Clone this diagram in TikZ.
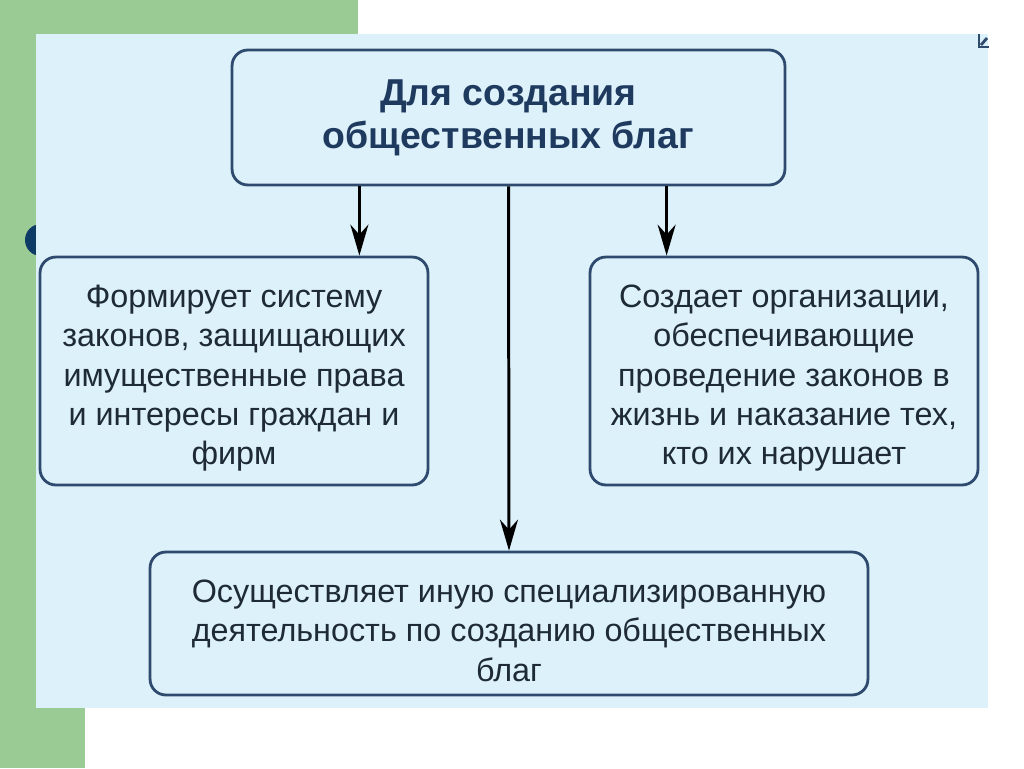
\documentclass[tikz,border=0pt]{standalone}
\usepackage{fontspec}
\setmainfont{Liberation Sans}
\usetikzlibrary{positioning, arrows.meta}
\definecolor{slidegreen}{HTML}{9BCB94}
\definecolor{panelblue}{HTML}{DDF1FA}
\definecolor{boxline}{HTML}{2E4A6E}
\definecolor{titleblue}{HTML}{1F3A5F}
\definecolor{bodytext}{HTML}{1E2A36}
\definecolor{dotblue}{HTML}{0E3B66}
\newcommand{\topstrut}{\rule{0pt}{21pt}}

\begin{document}
\begin{tikzpicture}[
  x=0.02cm, y=-0.02cm,
  box/.style={draw=boxline, line width=1.6pt, rounded corners=9pt, fill=panelblue,
              align=center, text=bodytext, inner sep=0pt,
              font=\fontsize{18.4}{22.4}\selectfont},
  arrow/.style={-{Stealth[length=0.62cm, width=0.36cm, inset=0.2cm]}, line width=1.7pt},
]
  % Slide background
  \useasboundingbox (0,0) rectangle (1024,768);
  \fill[white] (0,0) rectangle (1024,768);
  \fill[slidegreen] (0,0) rectangle (358,35);
  \fill[slidegreen] (0,0) rectangle (85,768);
  \fill[dotblue] (41,240) circle (16);
  \fill[panelblue] (36,34) rectangle (988,708);
  \draw[boxline, line width=1.6pt] (979,34) -- (979,47) -- (989,47);
  \draw[boxline, line width=1.6pt] (981,45) -- (987,38);
  % Top
  \node[box, minimum width=11.06cm, minimum height=2.7cm, text=titleblue,
        font=\fontsize{21.3}{24.5}\selectfont\bfseries] (goods) at (508.5,117.5)
    {Для создания\\общественных благ};
  % Left
  \node[box, minimum width=7.76cm, minimum height=4.56cm] (law) at (234,371)
    {\topstrut Формирует систему\\законов, защищающих\\имущественные права\\и интересы граждан и\\фирм};
  % Right
  \node[box, minimum width=7.76cm, minimum height=4.56cm] (org) at (784,371)
    {\topstrut Создает организации,\\обеспечивающие\\проведение законов в\\жизнь и наказание тех,\\кто их нарушает};
  % Bottom
  \node[box, minimum width=14.36cm, minimum height=2.86cm] (other) at (509,623.5)
    {\topstrut Осуществляет иную специализированную\\деятельность по созданию общественных\\благ};
  % Arrows
  \draw[arrow] ([xshift=-1.4cm]law.north east |- goods.south) -- ([xshift=-1.4cm]law.north east);
  \draw[arrow] ([xshift=1.56cm]org.north west |- goods.south) -- ([xshift=1.56cm]org.north west);
  \draw[arrow] (goods.south) -- (other.north);
\end{tikzpicture}
\end{document}
